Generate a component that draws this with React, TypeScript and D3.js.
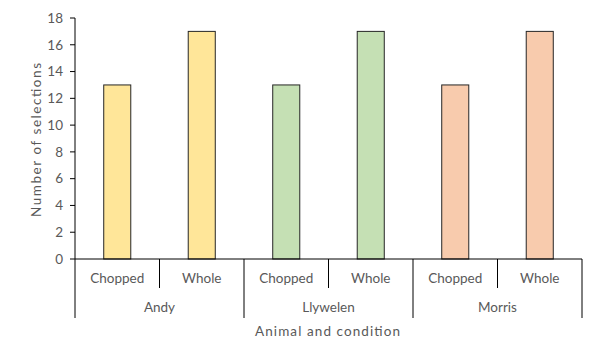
import React from "react";
import * as d3 from "d3";

const animals = ["Andy", "Llywelen", "Morris"];
const conditions = ["Chopped", "Whole"];
const values = [
  [13, 17],
  [13, 17],
  [13, 17],
];
const colors = ["#FFE699", "#C5E0B4", "#F8CBAD"];
const yTicks = [0, 2, 4, 6, 8, 10, 12, 14, 16, 18];

export default function App() {
  const W = 600, H = 360;
  const left = 75, right = 582, top = 18, bottom = 259;
  const font = "Lato, 'Open Sans', sans-serif";
  const textColor = "#595959";
  const fs = 13.5;
  const y = d3.scaleLinear().domain([0, 18]).range([bottom, top]);
  const cats = animals.flatMap((a) => conditions.map((c) => `${a}|${c}`));
  const x = d3.scaleBand().domain(cats).range([left, right]).paddingInner(0).paddingOuter(0);
  const bw = x.bandwidth() * 0.32;
  const gx = d3.scaleBand().domain(animals).range([left, right]);

  return (
    <svg width={W} height={H} style={{ position: "absolute", left: 0, top: 0 }} fontFamily={font}>
      <rect width={W} height={H} fill="#fff" />
      {animals.map((a, i) =>
        conditions.map((c, j) => {
          const cx = x(`${a}|${c}`)! + x.bandwidth() / 2;
          const v = values[i][j];
          return (
            <rect
              key={a + c}
              x={cx - bw / 2}
              y={y(v)}
              width={bw}
              height={y(0) - y(v)}
              fill={colors[i]}
              stroke="#262626"
              strokeWidth={1}
            />
          );
        })
      )}
      <line x1={left} x2={left} y1={top} y2={bottom} stroke="#000" strokeWidth={1} />
      {yTicks.map((t) => (
        <g key={t}>
          <line x1={left - 5} x2={left} y1={y(t)} y2={y(t)} stroke="#000" />
          <text x={left - 12} y={y(t)} dy="0.35em" textAnchor="end" fontSize={fs} fill={textColor}>
            {t}
          </text>
        </g>
      ))}
      <text
        transform={`translate(${36},${140}) rotate(-90)`}
        y={0}
        dy="0.35em"
        textAnchor="middle"
        fontSize={fs}
        fill={textColor}
        textLength={154}
        lengthAdjust="spacing"
      >
        Number of selections
      </text>
      <line x1={left} x2={right} y1={bottom} y2={bottom} stroke="#000" />
      {cats.map((k, idx) => {
        const [, c] = k.split("|");
        const x0 = x(k)!;
        const isGroupStart = idx % 2 === 0;
        return (
          <g key={k}>
            {!isGroupStart && <line x1={x0} x2={x0} y1={bottom} y2={288} stroke="#000" />}
            <text x={x0 + x.bandwidth() / 2} y={278} dy="0.35em" textAnchor="middle" fontSize={fs} fill={textColor}>
              {c}
            </text>
          </g>
        );
      })}
      {animals.map((a) => (
        <g key={a}>
          <line x1={gx(a)!} x2={gx(a)!} y1={bottom} y2={318} stroke="#000" />
          <text x={gx(a)! + gx.bandwidth() / 2} y={307} dy="0.35em" textAnchor="middle" fontSize={fs} fill={textColor}>
            {a}
          </text>
        </g>
      ))}
      <line x1={right} x2={right} y1={bottom} y2={318} stroke="#000" />
      <text
        x={327.5}
        y={331}
        dy="0.35em"
        textAnchor="middle"
        fontSize={fs}
        fill={textColor}
        textLength={145}
        lengthAdjust="spacing"
      >
        Animal and condition
      </text>
    </svg>
  );
}
